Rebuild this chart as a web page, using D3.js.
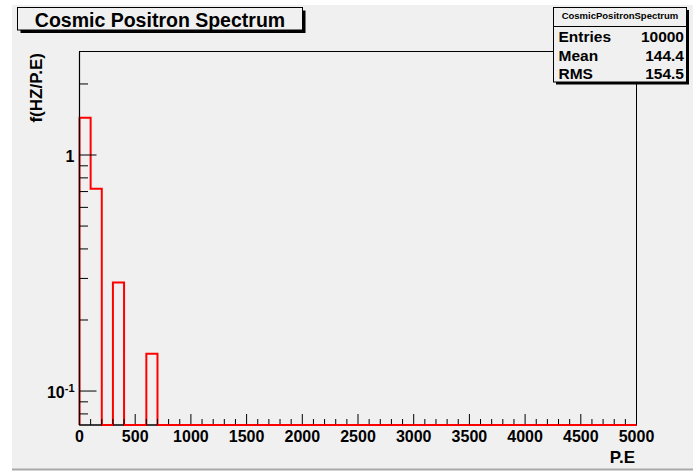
<!DOCTYPE html>
<html>
<head>
<meta charset="utf-8">
<script src="https://cdn.jsdelivr.net/npm/d3@7/dist/d3.min.js"></script>
<style>
  html, body { margin: 0; padding: 0; background: #ffffff; }
  svg { display: block; }
  text { font-family: "Liberation Sans", Arial, Helvetica, sans-serif; font-weight: bold; fill: #000; }
</style>
</head>
<body>
<svg id="chart" width="693" height="471"></svg>
<script>
// ---- data ----
const title = "Cosmic Positron Spectrum";
const histName = "CosmicPositronSpectrum";
const xTitle = "P.E";
const yTitle = "f(HZ/P.E)";
const binLow = 0, binHigh = 5000, binWidth = 100;
// bin contents, 50 bins of width 100 from 0 to 5000
const binValues = [
  1.44, 0.72, 0, 0.288, 0, 0, 0.144, 0, 0, 0,
  0, 0, 0, 0, 0, 0, 0, 0, 0, 0,
  0, 0, 0, 0, 0, 0, 0, 0, 0, 0,
  0, 0, 0, 0, 0, 0, 0, 0, 0, 0,
  0, 0, 0, 0, 0, 0, 0, 0, 0, 0
];
const statLabels = ["Entries", "Mean", "RMS"];
const statValues = ["10000", "144.4", "154.5"];
const xMajorTicks = [0, 500, 1000, 1500, 2000, 2500, 3000, 3500, 4000, 4500, 5000];
const yDomain = [0.0718, 2.745];
const yMajorTicks = [0.1, 1];
const yMinorTicks = [0.08, 0.09, 0.2, 0.3, 0.4, 0.5, 0.6, 0.7, 0.8, 0.9, 2];

// ---- layout ----
const svg = d3.select("#chart");
const L = 79.5, R = 636.5, T = 51.5, B = 425;

// canvas background
svg.append("rect").attr("x", 12).attr("y", 5).attr("width", 681).attr("height", 464).attr("fill", "#f0f0f0");
svg.append("line").attr("x1", 12).attr("x2", 693).attr("y1", 469.5).attr("y2", 469.5).attr("stroke", "#a8a8a8").attr("stroke-width", 2);

const x = d3.scaleLinear().domain([binLow, binHigh]).range([L, R]);
const y = d3.scaleLog().domain(yDomain).range([B, T]);

// frame
svg.append("rect").attr("x", L).attr("y", T).attr("width", R - L).attr("height", B - T)
  .attr("fill", "#f0f0f0").attr("stroke", "#000").attr("stroke-width", 1);

// histogram step path
const pts = [];
pts.push([x(binLow), B]);
binValues.forEach((v, i) => {
  const lo = binLow + i * binWidth, hi = lo + binWidth;
  const yy = v > yDomain[0] ? y(v) : B;
  pts.push([x(lo), yy]);
  pts.push([x(hi), yy]);
});
pts.push([x(binHigh), B]);
svg.append("path").attr("d", d3.line()(pts)).attr("fill", "none")
  .attr("stroke", "#ff0000").attr("stroke-width", 2).attr("stroke-linejoin", "miter");

// x axis ticks (drawn upward)
const xMinor = d3.range(binLow, binHigh + 1, 100).filter(v => !xMajorTicks.includes(v));
const gx = svg.append("g");
gx.selectAll("line.maj").data(xMajorTicks).enter().append("line")
  .attr("x1", d => x(d)).attr("x2", d => x(d)).attr("y1", B).attr("y2", B - 11)
  .attr("stroke", "#000").attr("stroke-width", 1);
gx.selectAll("line.min").data(xMinor).enter().append("line")
  .attr("x1", d => x(d)).attr("x2", d => x(d)).attr("y1", B).attr("y2", B - 6)
  .attr("stroke", "#000").attr("stroke-width", 1);
gx.selectAll("text").data(xMajorTicks).enter().append("text")
  .attr("x", d => x(d)).attr("y", 442).attr("text-anchor", "middle")
  .attr("font-size", 16).text(d => d);
svg.append("line").attr("x1", L).attr("x2", R).attr("y1", B).attr("y2", B).attr("stroke", "#000").attr("stroke-width", 1);
// redraw red along bottom for zero bins on top of axis line
binValues.forEach((v, i) => {
  if (v <= yDomain[0]) {
    const lo = binLow + i * binWidth, hi = lo + binWidth;
    svg.append("line").attr("x1", x(lo)).attr("x2", x(hi)).attr("y1", B).attr("y2", B)
      .attr("stroke", "#ff0000").attr("stroke-width", 2);
  }
});
svg.append("text").attr("x", 635).attr("y", 462.5).attr("text-anchor", "end")
  .attr("font-size", 17).text(xTitle);

// y axis ticks (drawn rightward)
const gy = svg.append("g");
gy.selectAll("line.maj").data(yMajorTicks).enter().append("line")
  .attr("x1", L).attr("x2", L + 17).attr("y1", d => y(d)).attr("y2", d => y(d))
  .attr("stroke", "#000").attr("stroke-width", 1);
gy.selectAll("line.min").data(yMinorTicks).enter().append("line")
  .attr("x1", L).attr("x2", L + 8.5).attr("y1", d => y(d)).attr("y2", d => y(d))
  .attr("stroke", "#000").attr("stroke-width", 1);
svg.append("line").attr("x1", L).attr("x2", L).attr("y1", T).attr("y2", B).attr("stroke", "#000").attr("stroke-width", 1.2);

// y labels
yMajorTicks.forEach(v => {
  const exp = Math.round(Math.log10(v));
  const t = svg.append("text").attr("x", 74.5).attr("y", y(v) + 6.5).attr("text-anchor", "end").attr("font-size", 16);
  if (exp === 0) {
    t.text("1");
  } else {
    t.append("tspan").text("10");
    t.append("tspan").attr("font-size", 11).attr("dy", -6).text(String(exp));
  }
});
svg.append("text").attr("transform", "translate(41.5,53) rotate(-90)")
  .attr("text-anchor", "end").attr("font-size", 17).text(yTitle);

// title box
svg.append("rect").attr("x", 20.5).attr("y", 10.5).attr("width", 285).attr("height", 22.5).attr("fill", "#000");
svg.append("rect").attr("x", 17.5).attr("y", 7.5).attr("width", 285).attr("height", 22.5)
  .attr("fill", "#f0f0f0").attr("stroke", "#000").attr("stroke-width", 1);
svg.append("text").attr("x", 160).attr("y", 27).attr("text-anchor", "middle")
  .attr("font-size", 19.5).text(title);

// stats box
const sx = 553.5, sy = 7.5, sw = 133, sh = 74.5;
svg.append("rect").attr("x", sx + 2.5).attr("y", sy + 2.5).attr("width", sw).attr("height", sh).attr("fill", "#000");
svg.append("rect").attr("x", sx).attr("y", sy).attr("width", sw).attr("height", sh)
  .attr("fill", "#f0f0f0").attr("stroke", "#000").attr("stroke-width", 1);
svg.append("line").attr("x1", sx).attr("x2", sx + sw).attr("y1", 26.5).attr("y2", 26.5).attr("stroke", "#000");
svg.append("text").attr("x", sx + sw / 2).attr("y", 19).attr("text-anchor", "middle")
  .attr("font-size", 9.5).text(histName);
statLabels.forEach((lab, i) => {
  const by = 42.3 + i * 18.5;
  svg.append("text").attr("x", 558.5).attr("y", by).attr("font-size", 15.5).text(lab);
  svg.append("text").attr("x", 684).attr("y", by).attr("text-anchor", "end").attr("font-size", 15.5).text(statValues[i]);
});
</script>
</body>
</html>
